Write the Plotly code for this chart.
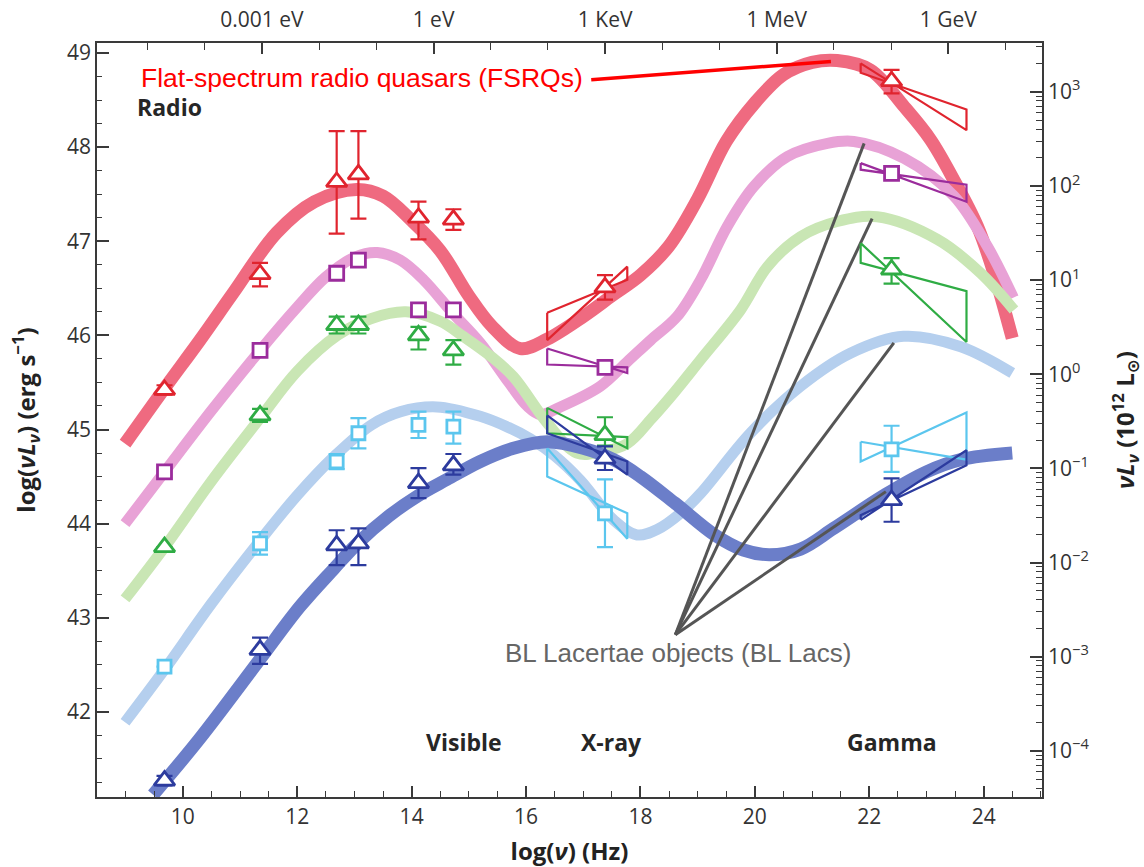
import plotly.graph_objects as go

# log10 of 1e12 solar luminosities in erg/s: offset between the two y scales
L_SUN12 = 45.587

X_RANGE = [8.5, 25.02]
Y_RANGE = [41.096, 49.106]

# frequencies (log Hz) of the photometric points
freq_pts = [9.68, 11.35, 12.69, 13.07, 14.12, 14.73, 17.38, 22.39]

# ---- smooth SED model curves, brightest bin first ----
c1_x = [8.99, 9.66, 10.3, 10.88, 11.64, 12.3, 13.04, 13.5, 14.0, 14.5, 15.0, 15.4, 15.9, 16.37, 17.0, 17.5,
        18.0, 18.5, 19.0, 19.5, 20.0, 20.5, 21.0, 21.44, 22.02, 22.61, 23.07, 23.48, 23.89, 24.18, 24.5]
c1_y = [44.85, 45.42, 45.95, 46.45, 47.09, 47.42, 47.55, 47.48, 47.22, 46.9, 46.42, 46.1, 45.86, 45.96, 46.2, 46.42,
        46.64, 46.95, 47.45, 48.06, 48.47, 48.77, 48.9, 48.92, 48.82, 48.43, 48.08, 47.65, 47.16, 46.66, 45.97]

c2_x = [8.99, 9.68, 10.5, 11.35, 12.0, 12.5, 13.0, 13.4, 13.8, 14.21, 14.7, 15.2, 15.7, 16.02, 16.25, 16.6, 17.3,
        17.77, 18.18, 18.64, 19.05, 19.52, 19.98, 20.57, 21.27, 21.73, 22.61, 23.48, 24.07, 24.52]
c2_y = [44.0, 44.55, 45.2, 45.84, 46.3, 46.62, 46.83, 46.88, 46.8, 46.59, 46.25, 45.92, 45.5, 45.25, 45.16, 45.24, 45.46,
        45.72, 45.95, 46.2, 46.59, 47.16, 47.58, 47.9, 48.04, 48.06, 47.88, 47.48, 46.94, 46.40]

c3_x = [8.99, 9.68, 10.5, 11.35, 12.0, 12.7, 13.3, 13.9, 14.5, 14.9, 15.4, 15.78, 16.37, 16.89, 17.3, 17.77, 18.2,
        18.6, 19.05, 19.75, 20.22, 20.8, 21.44, 22.14, 23.19, 23.95, 24.53]
c3_y = [43.2, 43.75, 44.45, 45.12, 45.62, 46.0, 46.18, 46.25, 46.15, 45.99, 45.77, 45.56, 45.07, 44.75, 44.76, 44.85,
        45.12, 45.4, 45.74, 46.27, 46.73, 47.05, 47.21, 47.26, 47.02, 46.66, 46.27]

c4_x = [8.99, 9.68, 10.5, 11.35, 12.0, 12.64, 13.3, 13.81, 14.44, 15.2, 15.7, 16.08, 16.5, 16.95, 17.53, 17.94, 18.3,
        18.7, 19.05, 19.92, 20.8, 21.67, 22.6, 23.6, 24.5]
c4_y = [41.89, 42.45, 43.15, 43.82, 44.3, 44.71, 45.05, 45.19, 45.24, 45.14, 45.02, 44.9, 44.72, 44.46, 44.04, 43.88,
        43.94, 44.11, 44.32, 44.96, 45.46, 45.81, 45.99, 45.88, 45.6]

c5_x = [9.48, 10.3, 11.35, 12.05, 12.64, 13.07, 13.6, 14.12, 14.62, 15.2, 15.78, 16.37, 17.0, 17.53, 18.0, 18.6, 19.3,
        19.8, 20.25, 20.8, 21.38, 22.26, 23.0, 23.6, 24.5]
c5_y = [41.12, 41.72, 42.56, 43.12, 43.52, 43.8, 44.08, 44.3, 44.47, 44.66, 44.8, 44.87, 44.8, 44.68, 44.5, 44.22,
        43.88, 43.72, 43.67, 43.73, 43.95, 44.3, 44.55, 44.68, 44.75]

# ---- photometric points with asymmetric errors ----
s1_y = [45.42, 46.65, 47.63, 47.71, 47.25, 47.23, 46.51, 48.70]
s1_up = [0.05, 0.12, 0.54, 0.46, 0.17, 0.11, 0.13, 0.12]
s1_dn = [0.05, 0.13, 0.55, 0.47, 0.23, 0.11, 0.13, 0.13]

s2_y = [44.55, 45.84, 46.66, 46.80, 46.27, 46.27, 45.66, 47.72]

s3_y = [43.75, 45.15, 46.11, 46.11, 46.00, 45.84, 44.94, 46.70]
s3_up = [0.0, 0.07, 0.09, 0.09, 0.09, 0.11, 0.19, 0.12]
s3_dn = [0.0, 0.07, 0.09, 0.09, 0.15, 0.15, 0.11, 0.15]

s4_y = [42.48, 43.79, 44.66, 44.96, 45.05, 45.03, 44.11, 44.79]
s4_up = [0.0, 0.12, 0.08, 0.16, 0.14, 0.16, 0.36, 0.25]
s4_dn = [0.0, 0.12, 0.08, 0.16, 0.14, 0.18, 0.36, 0.24]

s5_y = [41.27, 42.66, 43.77, 43.79, 44.43, 44.62, 44.69, 44.25]
s5_up = [0.05, 0.13, 0.16, 0.16, 0.16, 0.12, 0.13, 0.23]
s5_dn = [0.05, 0.15, 0.21, 0.23, 0.16, 0.10, 0.12, 0.23]

# ---- spectral bow-ties: two power laws (y at left edge, y at right edge) ----
xray_edges = [16.37, 17.77]
gamma_edges = [21.85, 23.70]

s1_xray = ([46.24, 46.59], [45.95, 46.73])
s1_gamma = ([48.89, 48.18], [48.79, 48.40])
s2_xray = ([45.86, 45.60], [45.69, 45.66])
s2_gamma = ([47.83, 47.42], [47.76, 47.60])
s3_xray = ([45.23, 44.80], [44.96, 44.92])
s3_gamma = ([46.98, 45.93], [46.77, 46.47])
s4_xray = ([44.80, 43.84], [44.50, 44.11])
s4_gamma = ([44.87, 44.68], [44.66, 45.18])
s5_xray = ([45.15, 44.52], [44.96, 44.66])
s5_gamma = ([44.04, 44.78], [44.09, 44.62])

# ---- label leader lines ----
fsrq_leader_x = [17.14, 21.33]
fsrq_leader_y = [48.716, 48.91]
bl_hub = (18.61, 42.82)
bl_targets_x = [21.91, 22.05, 22.43, 22.29]
bl_targets_y = [48.04, 47.24, 45.92, 44.34]

# ---- axis ticks ----
freq_ticks = [10, 12, 14, 16, 18, 20, 22, 24]
lum_ticks = [42, 43, 44, 45, 46, 47, 48, 49]
energy_ticks = [11.383, 14.383, 17.383, 20.383, 23.383]
energy_labels = ["0.001 eV", "1 eV", "1 KeV", "1 MeV", "1 GeV"]
solar_ticks = [1e-4, 1e-3, 1e-2, 1e-1, 1e0, 1e1, 1e2, 1e3]
solar_labels = ["10<sup>−4</sup>", "10<sup>−3</sup>", "10<sup>−2</sup>", "10<sup>−1</sup>",
                "10<sup>0</sup>", "10<sup>1</sup>", "10<sup>2</sup>", "10<sup>3</sup>"]

AX = "#3a3a3a"
TXT = "#333333"
TICK_FONT = "Open Sans, DejaVu Sans, sans-serif"
LABEL_FONT = "Liberation Sans, Arial, sans-serif"

curve_colors = ["#ef6a80", "#e8a2d6", "#c9e6b4", "#b5cfee", "#6b7ec9"]
curve_widths = [13, 11, 11, 11, 13]
point_colors = ["#e0242e", "#9b2c9c", "#2fac44", "#5bc6ee", "#2c3b9e"]

fig = go.Figure()

for cx, cy, col, w in zip([c1_x, c2_x, c3_x, c4_x, c5_x], [c1_y, c2_y, c3_y, c4_y, c5_y],
                          curve_colors, curve_widths):
    fig.add_trace(go.Scatter(x=cx, y=cy, mode="lines",
                             line=dict(color=col, width=w, shape="spline", smoothing=1.0),
                             hoverinfo="skip", showlegend=False))

# BL Lac leader lines
for tx, ty in zip(bl_targets_x, bl_targets_y):
    fig.add_trace(go.Scatter(x=[bl_hub[0], tx], y=[bl_hub[1], ty], mode="lines",
                             line=dict(color="#555555", width=3), hoverinfo="skip", showlegend=False))

# FSRQ leader line
fig.add_trace(go.Scatter(x=fsrq_leader_x, y=fsrq_leader_y, mode="lines",
                         line=dict(color="#ff0000", width=3.5), hoverinfo="skip", showlegend=False))


def bowtie(edges, pl):
    a, b = pl
    return ([edges[0], edges[1], edges[1], edges[0], edges[0]],
            [a[0], a[1], b[1], b[0], a[0]])


ties = [(s1_xray, s1_gamma), (s2_xray, s2_gamma), (s3_xray, s3_gamma), (s4_xray, s4_gamma), (s5_xray, s5_gamma)]
for (tx_, tg_), col in zip(ties, point_colors):
    for edges, pl in ((xray_edges, tx_), (gamma_edges, tg_)):
        bx, by = bowtie(edges, pl)
        fig.add_trace(go.Scatter(x=bx, y=by, mode="lines", line=dict(color=col, width=2.2),
                                 hoverinfo="skip", showlegend=False))

series = [
    (s1_y, s1_up, s1_dn, "triangle-up", 18),
    (s2_y, None, None, "square", 14),
    (s3_y, s3_up, s3_dn, "triangle-up", 18),
    (s4_y, s4_up, s4_dn, "square", 13),
    (s5_y, s5_up, s5_dn, "triangle-up", 18),
]
for (ys, up, dn, sym, sz), col in zip(series, point_colors):
    err = None
    if up is not None:
        err = dict(type="data", symmetric=False, array=up, arrayminus=dn,
                   color=col, thickness=2.2, width=8)
    fig.add_trace(go.Scatter(x=freq_pts, y=ys, mode="markers",
                             marker=dict(symbol=sym, size=sz, color="white",
                                         line=dict(color=col, width=2.8)),
                             error_y=err, hoverinfo="skip", showlegend=False))

# carrier for the secondary (energy / solar luminosity) axes
fig.add_trace(go.Scatter(x=[None], y=[None], xaxis="x2", yaxis="y2", mode="markers",
                         hoverinfo="skip", showlegend=False))

annotations = [
    dict(x=9.76, y=48.43, text="<b>Radio</b>", font=dict(family=TICK_FONT, size=23, color="#262626")),
    dict(x=14.91, y=41.678, text="<b>Visible</b>", font=dict(family=TICK_FONT, size=23, color="#262626")),
    dict(x=17.49, y=41.678, text="<b>X-ray</b>", font=dict(family=TICK_FONT, size=23, color="#262626")),
    dict(x=22.40, y=41.678, text="<b>Gamma</b>", font=dict(family=TICK_FONT, size=23, color="#262626")),
    dict(x=9.235, y=48.735, text="Flat-spectrum radio quasars (FSRQs)", xanchor="left",
         font=dict(family=LABEL_FONT, size=26.5, color="#ff0000")),
    dict(x=15.60, y=42.628, text="BL Lacertae objects (BL Lacs)", xanchor="left",
         font=dict(family=LABEL_FONT, size=26, color="#666666")),
]
for a in annotations:
    a.update(xref="x", yref="y", showarrow=False)

common = dict(showline=True, linecolor=AX, linewidth=1.6, showgrid=False, zeroline=False, automargin=False,
              tickcolor=AX, tickwidth=1.5, tickfont=dict(family=TICK_FONT, size=21, color=TXT))

fig.update_layout(
    width=1144, height=867,
    margin=dict(l=97, r=102, t=43, b=70, autoexpand=False),
    paper_bgcolor="white", plot_bgcolor="white",
    showlegend=False,
    annotations=annotations,
    xaxis=dict(range=X_RANGE, tickvals=freq_ticks, ticks="inside", ticklen=11,
               minor=dict(ticks="inside", dtick=0.5, tick0=8.5, ticklen=6, tickcolor=AX, tickwidth=1.3),
               title=dict(text="<b>log(<i>ν</i>) (Hz)</b>", font=dict(family=TICK_FONT, size=24, color="#222"),
                          standoff=17),
               **common),
    xaxis2=dict(overlaying="x", side="top", range=X_RANGE, tickvals=energy_ticks, ticktext=energy_labels,
                ticks="inside", ticklen=11, ticklabelstandoff=6,
                minor=dict(ticks="inside", tick0=9.383, dtick=1, ticklen=7, tickcolor=AX, tickwidth=1.3),
                **common),
    yaxis=dict(range=Y_RANGE, tickvals=lum_ticks, ticks="inside", ticklen=12,
               minor=dict(ticks="inside", dtick=0.25, tick0=41, ticklen=5, tickcolor=AX, tickwidth=1.3),
               title=dict(text="<b>log(<i>νL<sub>ν</sub></i>) (erg s<sup>−1</sup>)</b>",
                          font=dict(family=TICK_FONT, size=24, color="#222"), standoff=25),
               **common),
    yaxis2=dict(overlaying="y", side="right", type="log",
                range=[Y_RANGE[0] - L_SUN12, Y_RANGE[1] - L_SUN12],
                tickvals=solar_ticks, ticktext=solar_labels, ticks="inside", ticklen=12,
                minor=dict(ticks="inside", dtick="D1", ticklen=6, tickcolor=AX, tickwidth=1.3),
                title=dict(text="<b><i>νL<sub>ν</sub></i> (10<sup>12</sup> L<sub>⊙</sub>)</b>",
                           font=dict(family=TICK_FONT, size=24, color="#222"), standoff=32),
                **common),
)

fig.write_html("out.html")
